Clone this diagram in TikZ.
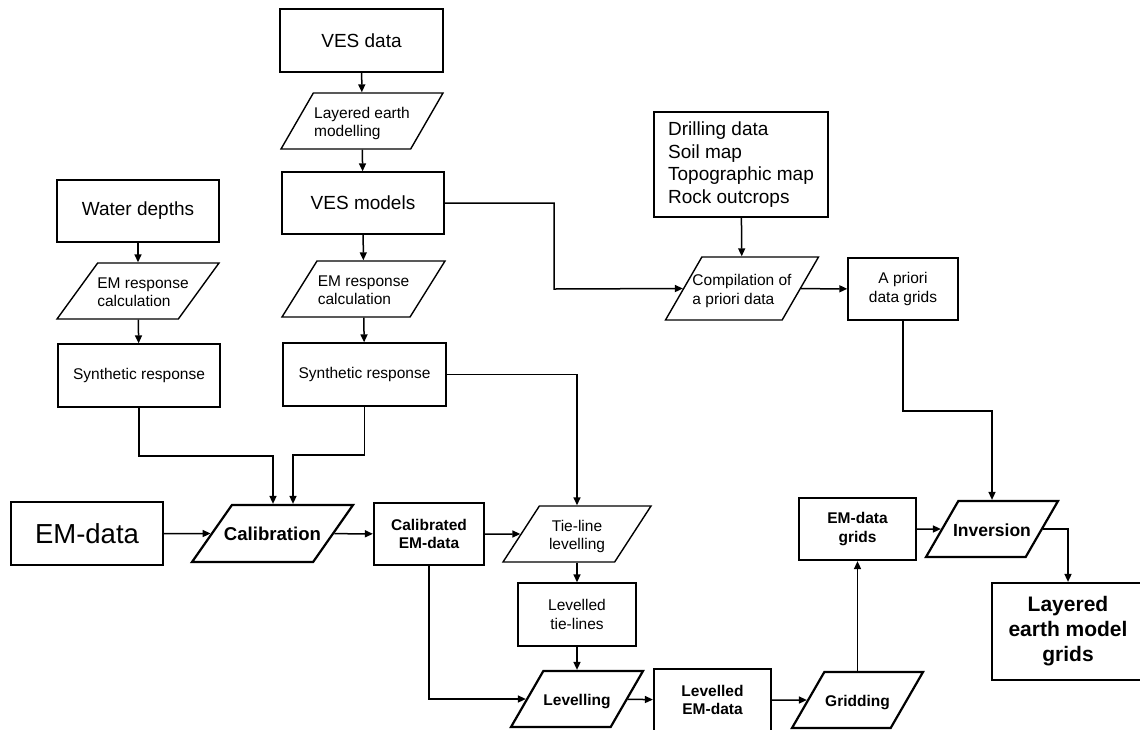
\documentclass[tikz,border=0pt]{standalone}
\usepackage{fontspec}
\setmainfont{Liberation Sans}
\usetikzlibrary{shapes.geometric,arrows.meta}
\newcommand{\fsmall}{\fontsize{15.5}{18.5}\selectfont}
\newcommand{\flarge}{\fontsize{19}{22.5}\selectfont}
\newcommand{\fhuge}{\fontsize{27.5}{31}\selectfont}
% text of a slanted box, with the box height fixed
\newcommand{\iobox}[3]{\vbox to #1{\vfil\hbox to 0pt{\hss\begin{tabular}{@{}#2@{}}#3\end{tabular}\hss}\vfil\vskip -6pt}}
\tikzstyle{block} = [rectangle, draw, line width=1.4pt, align=center, inner sep=2pt, font=\fsmall]
\tikzstyle{bblock} = [block, line width=2.2pt, font=\fsmall\bfseries]
\tikzstyle{io} = [trapezium, draw, line width=1.4pt, trapezium left angle=60, trapezium right angle=120, trapezium stretches body=true, inner xsep=1pt, inner ysep=0pt, font=\fsmall]
\tikzstyle{bio} = [io, line width=2.2pt, font=\fsmall\bfseries]
\tikzstyle{line} = [draw, line width=1.5pt, -{Triangle[length=8pt,width=7pt]}]

\begin{document}
\begin{tikzpicture}[x=1pt, y=-1pt]
    \useasboundingbox (0,0) rectangle (1140,729);
    \clip (0,0) rectangle (1140,729);
    % VES branch
    \node [block, font=\flarge, minimum width=163pt, minimum height=63pt] (vesdata) at (361.5,40.5) {VES data};
    \node [io, minimum width=162pt] (modelling) at (362,121) {\iobox{56pt}{l}{Layered earth\\modelling}};
    \node [block, font=\flarge, minimum width=162pt, minimum height=62pt] (vesmodels) at (363,203) {VES models};
    \node [io, trapezium left angle=58, trapezium right angle=122, minimum width=163pt] (emresp2) at (363.5,289) {\iobox{56pt}{l}{EM response\\calculation}};
    \node [block, minimum width=163pt, minimum height=63pt] (synth2) at (364.5,374.5) {Synthetic response};
    % water depths branch
    \node [block, font=\flarge, minimum width=162pt, minimum height=62pt] (water) at (138,211) {Water depths};
    \node [io, trapezium left angle=54, trapezium right angle=126, minimum width=162pt] (emresp1) at (138,291) {\iobox{56pt}{l}{\hspace{10pt}EM response\\\hspace{10pt}calculation}};
    \node [block, minimum width=162pt, minimum height=63pt] (synth1) at (139,375.5) {Synthetic response};
    % a priori branch
    \node [block, font=\flarge, align=left, minimum width=174pt, minimum height=105pt] (drilling) at (741,164.5) {Drilling data\\Soil map\\Topographic map\\Rock outcrops};
    \node [io, minimum width=153pt] (compil) at (742,288.5) {\iobox{63pt}{l}{Compilation of\\a priori data}};
    \node [block, minimum width=110pt, minimum height=62pt] (apriori) at (903,289) {A priori\\data grids};
    % main line
    \node [bblock, font=\fhuge, minimum width=152pt, minimum height=63pt] (emdata) at (87,533.5) {EM-data};
    \node [bio, font=\fontsize{18.6}{22}\selectfont\bfseries, trapezium left angle=55, trapezium right angle=125, minimum width=161pt] (calib) at (272.5,533.5) {\iobox{57pt}{c}{Calibration}};
    \node [bblock, minimum width=110pt, minimum height=62pt] (calibrated) at (429,534) {Calibrated\\EM-data};
    \node [io, trapezium left angle=57, trapezium right angle=123, minimum width=148pt] (tieline) at (577,534) {\iobox{56pt}{c}{Tie-line\\levelling}};
    \node [block, minimum width=118pt, minimum height=63pt] (levtie) at (577,614.5) {Levelled\\tie-lines};
    \node [bio, minimum width=132pt] (levelling) at (577,699) {\iobox{56pt}{c}{Levelling}};
    \node [bblock, minimum width=117pt, minimum height=62pt] (levem) at (712.5,700) {Levelled\\EM-data};
    \node [bio, minimum width=131pt] (gridding) at (857.5,700) {\iobox{56pt}{c}{Gridding}};
    \node [bblock, minimum width=117pt, minimum height=62pt] (emgrids) at (857.5,529) {EM-data\\grids};
    \node [bio, font=\fontsize{17.5}{21}\selectfont\bfseries, minimum width=132pt] (inversion) at (992,529) {\iobox{56pt}{c}{Inversion}};
    \node [bblock, font=\fontsize{21}{25}\selectfont\bfseries, minimum width=152pt, minimum height=97pt] (grids) at (1068,631.5) {Layered\\earth model\\grids};

    \coordinate (j1) at (273,456);
    \coordinate (j2) at (293,455);
    \coordinate (j3) at (554,289);
    \coordinate (j4) at (992,411);

    \path [line] (vesdata) -- (modelling);
    \path [line] (modelling) -- (vesmodels);
    \path [line] (vesmodels) -- (emresp2);
    \path [line] (emresp2) -- (synth2);
    \path [line] (water) -- (emresp1);
    \path [line] (emresp1) -- (synth1);
    \path [line] (synth1.south) |- (j1) -- (j1 |- calib.north);
    \path [line] (synth2.south) |- (j2) -- (j2 |- calib.north);
    \path [line] (synth2.east) -| (tieline.north);
    \path [line] (vesmodels.east) -| (j3) -- (compil.west);
    \path [line] (drilling) -- (compil);
    \path [line] (compil) -- (apriori);
    \path [line] (apriori.south) |- (j4) -- (inversion.north);
    \path [line] (emdata) -- (calib);
    \path [line] (calib) -- (calibrated);
    \path [line] (calibrated) -- (tieline);
    \path [line] (tieline) -- (levtie);
    \path [line] (levtie) -- (levelling);
    \path [line] (calibrated.south) |- (levelling.west);
    \path [line] (levelling) -- (levem);
    \path [line] (levem) -- (gridding);
    \path [line] (gridding) -- (emgrids);
    \path [line] (emgrids) -- (inversion);
    \path [line] (inversion.east) -| (grids.north);
\end{tikzpicture}
\end{document}
